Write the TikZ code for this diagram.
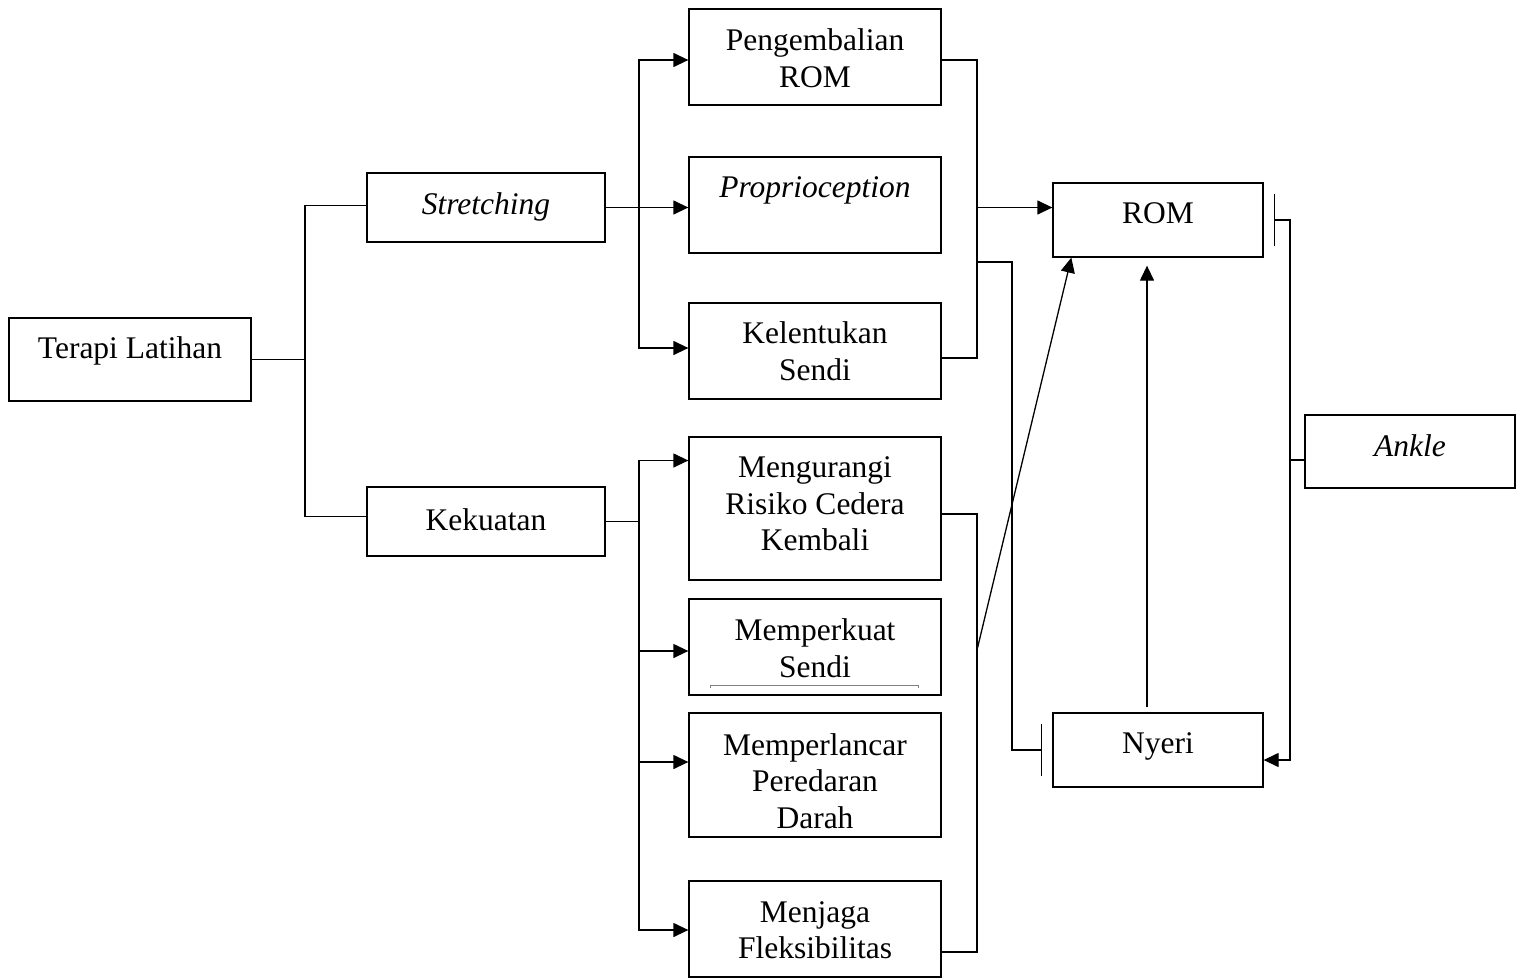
\documentclass[tikz,border=0pt]{standalone}
\usepackage{fontspec}
\setmainfont{Liberation Serif}
\usetikzlibrary{arrows.meta,calc}
\begin{document}
\begin{tikzpicture}[x=1pt,y=-1pt,
  box/.style={draw,line width=1.3pt,rectangle,inner sep=0pt},
  txt/.style={font=\fontsize{31.5}{36.5}\selectfont,align=center,inner sep=0pt},
  ln/.style={line width=1.3pt},
  arr/.style={line width=1.3pt,-{Triangle[length=15pt,width=14pt]}},
  inh/.style={line width=1.3pt,-{Bar[width=52pt,line width=1.3pt]}}]
\useasboundingbox (0,0) rectangle (1525,977);
% boxes
\node[box,minimum width=242pt,minimum height=83pt] (terapi) at (130,359.5) {};
\node[box,minimum width=238pt,minimum height=69pt] (stretch) at (486,207.5) {};
\node[box,minimum width=238pt,minimum height=69pt] (kekuatan) at (486,521.5) {};
\node[box,minimum width=252pt,minimum height=96pt] (peng) at (815,57) {};
\node[box,minimum width=252pt,minimum height=96pt] (prop) at (815,205) {};
\node[box,minimum width=252pt,minimum height=96pt] (kel) at (815,351) {};
\node[box,minimum width=252pt,minimum height=143pt] (meng) at (815,508.5) {};
\node[box,minimum width=252pt,minimum height=96pt] (memp) at (815,647) {};
\node[box,minimum width=252pt,minimum height=124pt] (mempl) at (815,775) {};
\node[box,minimum width=252pt,minimum height=96pt] (menj) at (815,929) {};
\node[box,minimum width=210pt,minimum height=74pt] (rom) at (1158,220) {};
\node[box,minimum width=210pt,minimum height=74pt] (nyeri) at (1158,750) {};
\node[box,minimum width=210pt,minimum height=73pt] (ankle) at (1410,451.5) {};
% texts
\node[txt] (terapiT) at (130,350.5) {Terapi Latihan};
\node[txt] (stretchT) at (486,207) {\itshape Stretching};
\node[txt] (kekuatanT) at (486,520) {Kekuatan};
\node[txt] (pengT) at (815,58) {Pengembalian\\ROM};
\node[txt] (propT) at (815,190) {\itshape Proprioception};
\node[txt] (kelT) at (815,351) {Kelentukan\\Sendi};
\node[txt] (mengT) at (815,504) {Mengurangi\\Risiko Cedera\\Kembali};
\node[txt] (mempT) at (815,648) {Memperkuat\\Sendi};
\node[txt] (memplT) at (815,781) {Memperlancar\\Peredaran\\Darah};
\node[txt] (menjT) at (815,930) {Menjaga\\Fleksibilitas};
\node[txt] (romT) at (1158,213) {ROM};
\node[txt] (nyeriT) at (1158,746.5) {Nyeri};
\node[txt] (ankleT) at (1410,446) {\itshape Ankle};
% underline inside Memperkuat Sendi
\draw[gray,line width=0.8pt] (710,688) -- (710,685) -- (918,685) -- (918,688);
% junctions
\coordinate (j1) at (305,359.5);
\coordinate (j2) at (639,207.5);
\coordinate (j3) at (639,521.5);
\coordinate (b1) at (977,207.5);
\coordinate (b2) at (977,262);
\coordinate (b3t) at (977,514);
\coordinate (b3b) at (977,952);
\coordinate (b4) at (977,650);
\coordinate (r1) at (1290,220);
\coordinate (r2) at (1290,460);
% left tree
\draw[ln] (terapi.east) -- (j1);
\draw[ln] ($(stretch.west)+(0,-2)$) -| (j1) |- ($(kekuatan.west)+(0,-5)$);
\draw[arr] (stretch.east) -- (prop.west |- stretch.east);
\draw[arr] (j2) |- ($(peng.west)+(0,3)$);
\draw[arr] (j2) |- ($(kel.west)+(0,-3)$);
\draw[ln] (kekuatan.east) -- (j3);
\draw[arr] (j3) |- ($(meng.west)+(0,-48)$);
\draw[arr] (j3) |- ($(memp.west)+(0,4)$);
\draw[arr] (j3) |- ($(mempl.west)+(0,-13)$);
\draw[arr] (j3) |- ($(menj.west)+(0,1)$);
% upper bracket
\draw[ln] ($(peng.east)+(0,3)$) -| (b1) |- ($(kel.east)+(0,7)$);
\draw[arr] (b1) -- (rom.west |- b1);
\draw[inh] (b2) -- (1012,262) |- ($(nyeri.west)+(-10,0)$);
% lower bracket
\draw[ln] (meng.east |- b3t) -- (b3t) -- (b3b) -- (menj.east |- b3b);
\draw[arr] (b4) -- ($(rom.south west)+(19,0)$);
% nyeri to rom
\draw[arr] ($(nyeri.north)+(-11,-5)$) -- ($(rom.south)+(-11,8)$);
% rom to nyeri via ankle
\draw[{Bar[width=52pt,line width=1.3pt]}-{Triangle[length=15pt,width=14pt]},line width=1.3pt] ($(rom.east)+(10,0)$) -- (r1) |- ($(nyeri.east)+(0,10)$);
\draw[ln] (r2) -- (ankle.west |- r2);
\end{tikzpicture}
\end{document}
